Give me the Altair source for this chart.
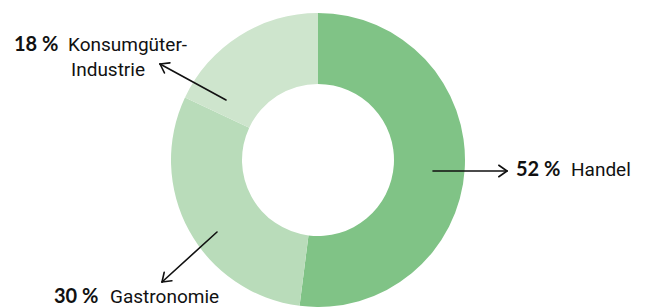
import altair as alt
import pandas as pd
import numpy as np

# Data
categories = ["Handel", "Gastronomie", "Konsumgüter-Industrie"]
shares = [52, 30, 18]
colors = ["#80C386", "#B9DCBA", "#CEE5CD"]

# Annotation labels (page pixel coordinates)
bold_labels = ["18 %", "52 %", "30 %"]
bold_x = [14, 516, 54]
bold_y = [45, 170, 297]
name_labels = ["Konsumgüter-", "Industrie", "Handel", "Gastronomie"]
name_x = [68, 71, 571, 110]
name_y = [45, 70, 170, 297]

# Arrows: tail -> head
arrow_x1 = [226, 433, 217]
arrow_y1 = [100, 171, 232]
arrow_x2 = [160, 507, 162]
arrow_y2 = [64, 171, 282]

W, H = 629, 299
CX, CY = 318 - 8, 160 - 8

pie = pd.DataFrame({"cat": categories, "share": shares, "order": [0, 1, 2]})

xs = alt.Scale(domain=[8, 8 + W], nice=False, zero=False)
ys = alt.Scale(domain=[8 + H, 8], nice=False, zero=False)

arc = alt.Chart(pie).mark_arc(outerRadius=147, innerRadius=76, stroke=None).encode(
    theta=alt.Theta("share:Q", stack=True),
    order=alt.Order("order:Q"),
    color=alt.Color("cat:N", scale=alt.Scale(domain=categories, range=colors), legend=None),
    x=alt.value(CX), y=alt.value(CY),
)

# arrow segments (shaft + two head strokes)
segs = []
for x1, y1, x2, y2 in zip(arrow_x1, arrow_y1, arrow_x2, arrow_y2):
    segs.append((x1, y1, x2, y2))
    ang = np.arctan2(y1 - y2, x1 - x2)
    L = 10
    for d in (np.radians(35), -np.radians(35)):
        segs.append((x2, y2, x2 + L * np.cos(ang + d), y2 + L * np.sin(ang + d)))
seg_df = pd.DataFrame(segs, columns=["x", "y", "x2", "y2"])

rules = alt.Chart(seg_df).mark_rule(color="#111111", strokeWidth=1.6, strokeCap="round").encode(
    x=alt.X("x:Q", scale=xs, axis=None),
    y=alt.Y("y:Q", scale=ys, axis=None),
    x2="x2:Q", y2="y2:Q",
)

bdf = pd.DataFrame({"t": bold_labels, "x": bold_x, "y": bold_y})
ndf = pd.DataFrame({"t": name_labels, "x": name_x, "y": name_y})

btext = alt.Chart(bdf).mark_text(align="left", baseline="middle", font="Lato",
                                 fontSize=20, fontWeight="bold", color="#111111").encode(
    x=alt.X("x:Q", scale=xs, axis=None), y=alt.Y("y:Q", scale=ys, axis=None), text="t:N")
ntext = alt.Chart(ndf).mark_text(align="left", baseline="middle", font="Roboto",
                                 fontSize=19, color="#111111").encode(
    x=alt.X("x:Q", scale=xs, axis=None), y=alt.Y("y:Q", scale=ys, axis=None), text="t:N")

chart = alt.layer(arc, rules, btext, ntext).properties(
    width=W, height=H, padding=0, autosize=alt.AutoSizeParams(type="none")
).configure_view(stroke=None)

chart.save("out.html", embed_options={"renderer": "svg", "actions": False})
